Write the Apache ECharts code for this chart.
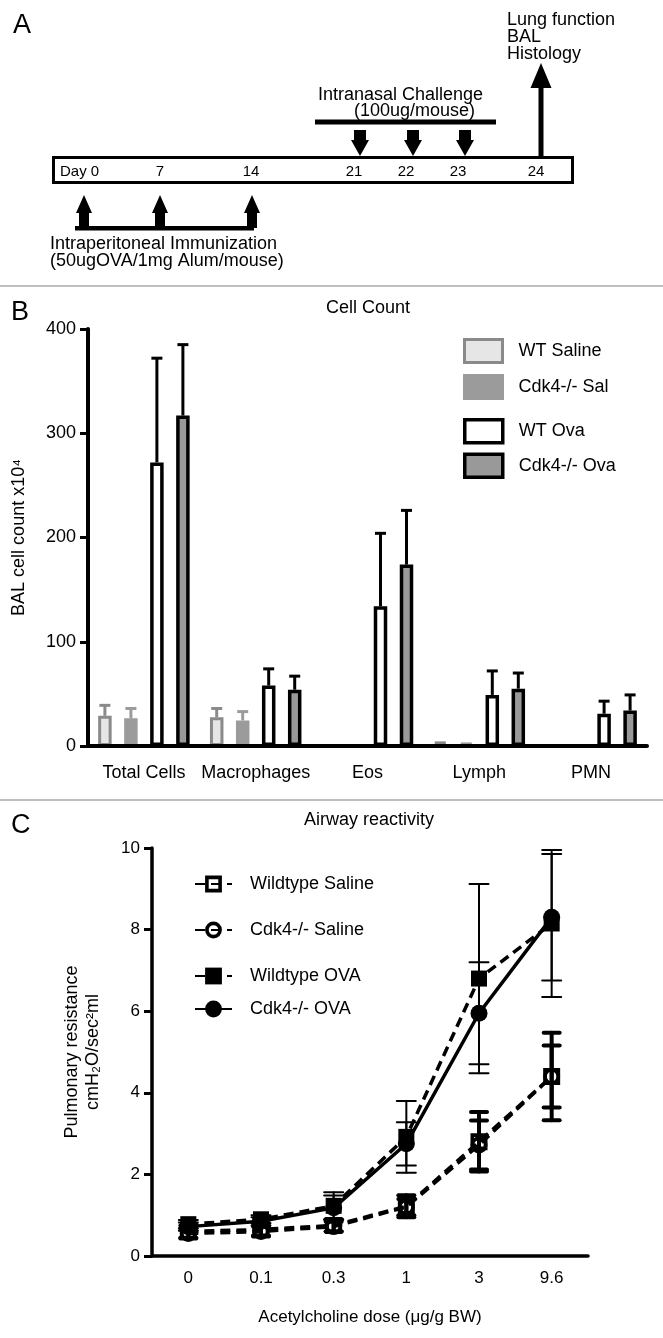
<!DOCTYPE html>
<html><head><meta charset="utf-8">
<script src="https://cdn.jsdelivr.net/npm/echarts@6.0.0/dist/echarts.min.js"></script>
<style>html,body{margin:0;padding:0;background:#fff}#c{width:663px;height:1338px}</style>
</head><body><div id="c"></div>
<script>
// ---------- Panel A (schematic) ----------
const timelineDays = ['Day 0', '7', '14', '21', '22', '23', '24'];
const immunizationDays = ['Day 0', '7', '14'];
const challengeDays = ['21', '22', '23'];

// ---------- Panel B: BAL cell counts (x10^4) ----------
const cellCategories = ['Total Cells', 'Macrophages', 'Eos', 'Lymph', 'PMN'];
const wtSaline    = [29, 27.5, 0, 2, 0];
const wtSalineErr = [10, 8.5, 0, 1, 0];
const cdkSal      = [26.5, 24.5, 0, 1.5, 0];
const cdkSalErr   = [9.5, 8.5, 0, 0.5, 0];
const wtOva       = [272, 58, 134, 49, 31];
const wtOvaErr    = [100, 16, 70, 23, 12];
const cdkOva      = [317, 54, 174, 55, 34];
const cdkOvaErr   = [68, 13, 52, 15, 15];

// ---------- Panel C: airway reactivity ----------
const doses = ['0', '0.1', '0.3', '1', '3', '9.6'];
const wtSalineC    = [0.6, 0.65, 0.75, 1.22, 2.8, 4.4];
const wtSalineCErr = [0.15, 0.15, 0.15, 0.27, 0.73, 1.07];
const cdkSalineC    = [0.55, 0.6, 0.72, 1.2, 2.72, 4.4];
const cdkSalineCErr = [0.12, 0.12, 0.12, 0.2, 0.6, 0.76];
const wtOvaC    = [0.78, 0.9, 1.23, 2.92, 6.8, 8.15];
const wtOvaCErr = [0.1, 0.1, 0.33, 0.88, 2.32, 1.8];
const cdkOvaC    = [0.72, 0.85, 1.18, 2.75, 5.95, 8.3];
const cdkOvaCErr = [0.1, 0.1, 0.3, 0.53, 1.25, 1.55];

const FONT = '"Liberation Sans", Arial, Helvetica, sans-serif';
const chart = echarts.init(document.getElementById('c'), null, {renderer: 'canvas'});

// ---- schematic graphics for panel A ----
const dayX = {'Day 0': 84, '7': 160, '14': 252, '21': 360, '22': 413, '23': 465, '24': 538};
const dayLabelX = {'Day 0': 60, '7': 160, '14': 251, '21': 354, '22': 406, '23': 458, '24': 536};
function txt(text, x, y, size, align, extra) {
  return {type: 'text', style: Object.assign({text: text, x: x, y: y, fill: '#000',
    font: size + 'px ' + FONT, textAlign: align || 'left', textVerticalAlign: 'middle'}, extra || {})};
}
const A = [];
A.push({type: 'rect', shape: {x: 53.5, y: 157.5, width: 519, height: 25}, style: {fill: '#fff', stroke: '#000', lineWidth: 3}});
timelineDays.forEach(function (d) {
  A.push(txt(d, dayLabelX[d], 172, 15, d === 'Day 0' ? 'left' : 'center'));
});
immunizationDays.forEach(function (d) {
  const cx = dayX[d];
  A.push({type: 'polygon', shape: {points: [[cx, 195], [cx + 8, 213], [cx + 5, 213], [cx + 5, 228], [cx - 5, 228], [cx - 5, 213], [cx - 8, 213]]}, style: {fill: '#000'}});
});
A.push({type: 'rect', shape: {x: 75, y: 226, width: 179, height: 4.5}, style: {fill: '#000'}});
A.push({type: 'text', style: {text: 'Intraperitoneal Immunization\n(50ugOVA/1mg Alum/mouse)', x: 50, y: 236, fill: '#000',
  font: '18px ' + FONT, lineHeight: 17, textAlign: 'left', textVerticalAlign: 'top'}});
challengeDays.forEach(function (d) {
  const cx = dayX[d];
  A.push({type: 'polygon', shape: {points: [[cx - 6, 130], [cx + 6, 130], [cx + 6, 140], [cx + 9, 140], [cx, 156], [cx - 9, 140], [cx - 6, 140]]}, style: {fill: '#000'}});
});
A.push({type: 'rect', shape: {x: 315, y: 119.5, width: 181, height: 5}, style: {fill: '#000'}});
A.push(txt('Intranasal Challenge', 318, 95, 18, 'left'));
A.push(txt('(100ug/mouse)', 354, 111, 18, 'left'));
A.push({type: 'polygon', shape: {points: [[541, 63], [551.5, 88], [543.5, 88], [543.5, 158], [538.5, 158], [538.5, 88], [530.5, 88]]}, style: {fill: '#000'}});
A.push({type: 'text', style: {text: 'Lung function\nBAL\nHistology', x: 507, y: 12, fill: '#000',
  font: '18px ' + FONT, lineHeight: 17, textAlign: 'left', textVerticalAlign: 'top'}});

const decor = [
  {type: 'line', shape: {x1: 0, y1: 286, x2: 663, y2: 286}, style: {stroke: '#aaa', lineWidth: 1.5}},
  {type: 'line', shape: {x1: 0, y1: 800, x2: 663, y2: 800}, style: {stroke: '#aaa', lineWidth: 1.5}},
  txt('A', 13, 26, 27, 'left'),
  txt('B', 11, 313, 27, 'left'),
  txt('C', 11, 826, 27, 'left'),
  txt('Cell Count', 368, 308, 18, 'center'),
  txt('Airway reactivity', 369, 820, 18, 'center')
];

// ---- bar error bars (panel B) ----
const BAR_W = 13.5, BAR_GAP = 12.5, BAR_STEP = BAR_W + BAR_GAP;
function barErr(name, vals, errs, idx, color) {
  return {
    type: 'custom', name: name + ' err', xAxisIndex: 0, yAxisIndex: 0, z: 4, silent: true,
    data: vals.map(function (v, i) { return [i, v, v + errs[i]]; }),
    encode: {x: 0, y: [1, 2]},
    renderItem: function (params, api) {
      if (api.value(2) - api.value(1) <= 0) return null;
      const off = (idx - 1.5) * BAR_STEP;
      const p0 = api.coord([api.value(0), api.value(1)]);
      const p1 = api.coord([api.value(0), api.value(2)]);
      const x = p0[0] + off;
      const st = {stroke: color, lineWidth: 3};
      return {type: 'group', children: [
        {type: 'line', shape: {x1: x, y1: p0[1], x2: x, y2: p1[1]}, style: st},
        {type: 'line', shape: {x1: x - 5.5, y1: p1[1], x2: x + 5.5, y2: p1[1]}, style: st}
      ]};
    }
  };
}
function barSeries(name, vals, fill, border, bw) {
  return {name: name, type: 'bar', xAxisIndex: 0, yAxisIndex: 0, data: vals, barWidth: BAR_W,
    barGap: (BAR_GAP / BAR_W * 100) + '%', z: 2,
    itemStyle: {color: fill, borderColor: border, borderWidth: bw}};
}

// ---- line error bars (panel C) ----
function lineErr(name, vals, errs, color, lw, cap) {
  return {
    type: 'custom', name: name + ' err', xAxisIndex: 1, yAxisIndex: 1, z: 1, silent: true,
    data: vals.map(function (v, i) { return [i, v - errs[i], v + errs[i]]; }),
    encode: {x: 0, y: [1, 2]},
    renderItem: function (params, api) {
      const lo = api.coord([api.value(0), api.value(1)]);
      const hi = api.coord([api.value(0), api.value(2)]);
      const x = lo[0], h = cap / 2;
      const st = {stroke: color, lineWidth: lw, lineCap: 'round'};
      return {type: 'group', children: [
        {type: 'line', shape: {x1: x, y1: lo[1], x2: x, y2: hi[1]}, style: st},
        {type: 'line', shape: {x1: x - h, y1: lo[1], x2: x + h, y2: lo[1]}, style: st},
        {type: 'line', shape: {x1: x - h, y1: hi[1], x2: x + h, y2: hi[1]}, style: st}
      ]};
    }
  };
}
const hollowSquare = 'path://M0 0H14V14H0Z M3 3V11H11V3Z';
const hollowCircle = 'path://M0 7A7 7 0 0 1 14 7A7 7 0 0 1 0 7Z M3 7A4 4 0 0 0 11 7A4 4 0 0 0 3 7Z';
function lineSeries(name, vals, symbol, size, dash) {
  return {name: name, type: 'line', xAxisIndex: 1, yAxisIndex: 1, data: vals, symbol: symbol, symbolSize: size,
    showAllSymbol: true, z: 3,
    lineStyle: {color: '#000', width: 3.5, type: dash ? [10, 6] : 'solid'},
    itemStyle: {color: '#000', borderWidth: 0}};
}

const axisTxt = {color: '#000', fontFamily: FONT};

const option = {
  animation: false,
  backgroundColor: '#fff',
  textStyle: {fontFamily: FONT, color: '#000'},
  graphic: A.concat(decor),
  grid: [
    {left: 88, top: 329, width: 559, height: 417},
    {left: 152, top: 848, width: 436, height: 408}
  ],
  xAxis: [
    {type: 'category', gridIndex: 0, data: cellCategories, z: 5,
      axisLine: {lineStyle: {color: '#000', width: 4}},
      axisTick: {alignWithLabel: true, length: 8, lineStyle: {color: '#000', width: 4}},
      axisLabel: Object.assign({fontSize: 18, margin: 18, interval: 0}, axisTxt)},
    {type: 'category', gridIndex: 1, data: doses, z: 5,
      name: 'Acetylcholine dose (\u03bcg/g BW)', nameLocation: 'middle', nameGap: 53,
      nameTextStyle: {fontSize: 17, color: '#000', fontFamily: FONT},
      axisLine: {lineStyle: {color: '#000', width: 3.5}},
      axisTick: {alignWithLabel: true, length: 8, lineStyle: {color: '#000', width: 3.5}},
      axisLabel: Object.assign({fontSize: 17, margin: 14, interval: 0}, axisTxt)}
  ],
  yAxis: [
    {type: 'value', gridIndex: 0, min: 0, max: 400, interval: 100, z: 5,
      name: 'BAL cell count x10\u2074', nameLocation: 'middle', nameGap: 60, nameRotate: 90,
      nameTextStyle: {fontSize: 18, color: '#000', fontFamily: FONT},
      axisLine: {show: true, lineStyle: {color: '#000', width: 4}},
      axisTick: {show: true, length: 8, lineStyle: {color: '#000', width: 3}},
      splitLine: {show: false},
      axisLabel: Object.assign({fontSize: 18, margin: 12}, axisTxt)},
    {type: 'value', gridIndex: 1, min: 0, max: 10, interval: 2, z: 5,
      name: 'Pulmonary resistance\ncmH\u2082O/sec\u00b2ml', nameLocation: 'middle', nameGap: 48, nameRotate: 90,
      nameTextStyle: {fontSize: 18, lineHeight: 21, color: '#000', fontFamily: FONT},
      axisLine: {show: true, lineStyle: {color: '#000', width: 3.5}},
      axisTick: {show: true, length: 8, lineStyle: {color: '#000', width: 3}},
      splitLine: {show: false},
      axisLabel: Object.assign({fontSize: 17, margin: 12}, axisTxt)}
  ],
  legend: [
    {data: ['WT Saline', 'Cdk4-/- Sal'], orient: 'vertical', left: 463, top: 338, padding: 0,
      itemWidth: 38, itemHeight: 23, itemGap: 10, icon: 'rect',
      itemStyle: {borderWidth: 3},
      textStyle: {fontSize: 18, color: '#000', fontFamily: FONT, padding: [0, 0, 0, 11]}},
    {data: ['WT Ova', 'Cdk4-/- Ova'], orient: 'vertical', left: 463, top: 418, padding: 0,
      itemWidth: 38, itemHeight: 23, itemGap: 8, icon: 'rect',
      itemStyle: {borderWidth: 3.5},
      textStyle: {fontSize: 18, color: '#000', fontFamily: FONT, padding: [0, 0, 0, 11]}},
    {data: ['Wildtype Saline', 'Cdk4-/- Saline'], orient: 'vertical', left: 194, top: 875, padding: 0,
      itemWidth: 37, itemHeight: 21, itemGap: 28,
      textStyle: {fontSize: 18, color: '#000', fontFamily: FONT, padding: [0, 0, 0, 13]}},
    {data: ['Wildtype OVA', 'Cdk4-/- OVA'], orient: 'vertical', left: 194, top: 967, padding: 0,
      itemWidth: 37, itemHeight: 21, itemGap: 15,
      textStyle: {fontSize: 18, color: '#000', fontFamily: FONT, padding: [0, 0, 0, 13]}}
  ],
  series: [
    barSeries('WT Saline', wtSaline, '#e6e6e6', '#8a8a8a', 3),
    barSeries('Cdk4-/- Sal', cdkSal, '#9b9b9b', '#9b9b9b', 3),
    barSeries('WT Ova', wtOva, '#ffffff', '#000000', 3.5),
    barSeries('Cdk4-/- Ova', cdkOva, '#999999', '#000000', 3.5),
    barErr('WT Saline', wtSaline, wtSalineErr, 0, '#8a8a8a'),
    barErr('Cdk4-/- Sal', cdkSal, cdkSalErr, 1, '#9b9b9b'),
    barErr('WT Ova', wtOva, wtOvaErr, 2, '#000'),
    barErr('Cdk4-/- Ova', cdkOva, cdkOvaErr, 3, '#000'),

    lineErr('Wildtype Saline', wtSalineC, wtSalineCErr, '#000', 4, 16),
    lineErr('Cdk4-/- Saline', cdkSalineC, cdkSalineCErr, '#000', 4, 16),
    lineErr('Wildtype OVA', wtOvaC, wtOvaCErr, '#000', 2, 19),
    lineErr('Cdk4-/- OVA', cdkOvaC, cdkOvaCErr, '#000', 2, 19),
    lineSeries('Wildtype Saline', wtSalineC, hollowSquare, 17, true),
    lineSeries('Cdk4-/- Saline', cdkSalineC, hollowCircle, 17, true),
    lineSeries('Wildtype OVA', wtOvaC, 'rect', 16, true),
    lineSeries('Cdk4-/- OVA', cdkOvaC, 'circle', 17, false)
  ]
};
chart.setOption(option);
</script></body></html>
